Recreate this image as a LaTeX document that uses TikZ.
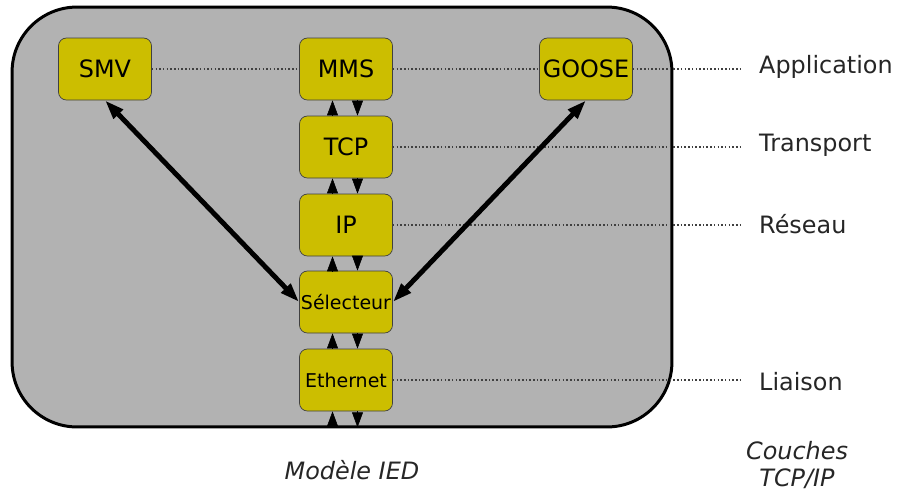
\documentclass[tikz,border=0pt]{standalone}
\usepackage{fontspec}
\setmainfont{DejaVu Sans}
\usetikzlibrary{arrows.meta}
\definecolor{jaune}{RGB}{204,190,0}

\begin{document}
\begin{tikzpicture}[x=0.02cm,y=-0.02cm,
	bloc/.style={draw=black!75,fill=jaune,rounded corners=4.5pt,minimum width=1.86cm,minimum height=1.24cm,inner sep=0pt,font=\fontsize{13.6}{16}\selectfont},
	petit/.style={bloc,font=\fontsize{10.8}{13}\selectfont},
	couche/.style={anchor=west,text=black!85,font=\fontsize{13.6}{16}\selectfont},
	legende/.style={text=black!85,align=center,font=\fontsize{13.6}{16}\selectfont\itshape},
	pointille/.style={black!75,line width=0.65pt,dash pattern=on 0.9pt off 1.2pt},
	fleche/.style={line width=0.3pt,-{Triangle[length=8.5pt,width=6.2pt]}},
	grosse/.style={line width=2.8pt,{Triangle[length=11pt,width=7pt]}-{Triangle[length=11pt,width=7pt]}}]
	\useasboundingbox (0,0) rectangle (898,491);
		\draw (342,217) 	node (ied) [draw,line width=1.7pt,fill=black!30,rounded corners=1.3cm,minimum width=13.2cm,minimum height=8.4cm] {};
		\draw (105,69) 	node (smv) [bloc] {SMV};
		\draw (346,69) 	node (mms) [bloc] {MMS};
		\draw (586,69) 	node (goose) [bloc] {GOOSE};
		\draw (346,147) 	node (tcp) [bloc] {TCP};
		\draw (346,225) 	node (ip) [bloc] {IP};
		\draw (346,302) 	node (selecteur) [petit] {Sélecteur};
		\draw (346,380) 	node (ethernet) [petit] {Ethernet};
		\draw (753,67) 	node (application) [couche] {Application};
		\draw (753,145) 	node (transport) [couche] {Transport};
		\draw (753,224) 	node (reseau) [couche] {Réseau};
		\draw (753,382) 	node (liaison) [couche] {Liaison};
		\draw (352,470) 	node (modele) [legende] {Modèle IED};
		\draw (797,465) 	node (couches) [legende] {Couches\\[-1pt]TCP/IP};
		\draw [pointille] (smv) -- (mms);
		\draw [pointille] (mms) -- (goose);
		\draw [pointille,shorten >=6pt] (goose.east) -- (goose.east -| application.west);
		\draw [pointille,shorten >=6pt] (tcp.east) -- (tcp.east -| transport.west);
		\draw [pointille,shorten >=6pt] (ip.east) -- (ip.east -| reseau.west);
		\draw [pointille,shorten >=6pt] (ethernet.east) -- (ethernet.east -| liaison.west);
		\foreach \haut/\bas in {mms/tcp,tcp/ip,ip/selecteur,selecteur/ethernet} {
			\draw [fleche] ([xshift=-0.27cm]\bas.north) -- ([xshift=-0.27cm]\haut.south);
			\draw [fleche] ([xshift=0.23cm]\haut.south) -- ([xshift=0.23cm]\bas.north);
		}
		\draw [fleche] ([xshift=-0.27cm,yshift=-0.32cm]ethernet.south) -- ([xshift=-0.27cm]ethernet.south);
		\draw [fleche] ([xshift=0.23cm]ethernet.south) -- ([xshift=0.23cm,yshift=-0.32cm]ethernet.south);
		\draw [grosse] (selecteur.west) -- (smv.south);
		\draw [grosse] (selecteur.east) -- (goose.south);
\end{tikzpicture}
\end{document}
